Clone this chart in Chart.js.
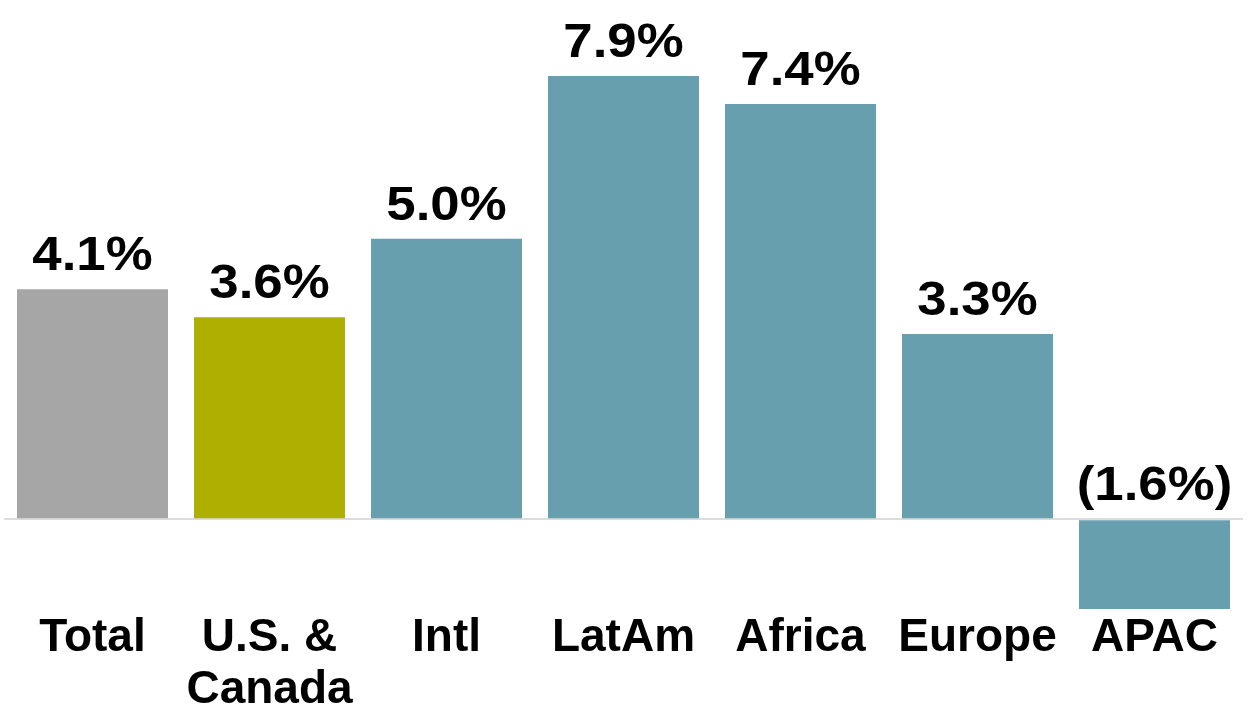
<!DOCTYPE html>
<html>
<head>
<meta charset="utf-8">
<script src="https://cdn.jsdelivr.net/npm/chart.js@4/dist/chart.umd.min.js"></script>
<style>
    body { margin: 0; background: #fff; }
    #wrap { width: 1250px; height: 711px; }
</style>
</head>
<body>
<div id="wrap"><canvas id="growthChart" width="1250" height="711"></canvas></div>
<script>
// Chart data
const categories = ['Total', ['U.S. &', 'Canada'], 'Intl', 'LatAm', 'Africa', 'Europe', 'APAC'];
const growthValues = [4.1, 3.6, 5.0, 7.9, 7.4, 3.3, -1.6];
const barColors = ['#a6a6a6', '#aeb000', '#679faf', '#679faf', '#679faf', '#679faf', '#679faf'];

// Format value as percent, negatives in parentheses
function formatPct(v) {
    return v < 0 ? '(' + Math.abs(v).toFixed(1) + '%)' : v.toFixed(1) + '%';
}

// Value labels above each bar (negatives sit above the zero line)
const valueLabels = {
    id: 'valueLabels',
    afterDatasetsDraw(chart) {
        const ctx = chart.ctx;
        const meta = chart.getDatasetMeta(0);
        const zeroY = chart.scales.y.getPixelForValue(0);
        meta.data.forEach((bar, i) => {
            const top = Math.min(bar.y, zeroY);
            ctx.save();
            ctx.font = 'bold 48px "Liberation Sans", Arial, sans-serif';
            ctx.fillStyle = '#000';
            ctx.textAlign = 'center';
            ctx.textBaseline = 'alphabetic';
            // slightly wider glyphs, like the original
            ctx.translate(bar.x, top - 19);
            ctx.scale(1.1, 1);
            ctx.fillText(formatPct(growthValues[i]), 0, 0);
            ctx.restore();
        });
    }
};

const ctx = document.getElementById('growthChart').getContext('2d');
new Chart(ctx, {
    type: 'bar',
    data: {
        labels: categories,
        datasets: [{
            data: growthValues,
            backgroundColor: barColors,
            borderWidth: 0,
            barPercentage: 0.853,
            categoryPercentage: 1.0
        }]
    },
    options: {
        responsive: false,
        animation: false,
        layout: { padding: { top: 76, left: 4, right: 7, bottom: 0 } },
        plugins: {
            legend: { display: false },
            tooltip: { enabled: false }
        },
        scales: {
            x: {
                grid: { display: false },
                border: { display: false },
                ticks: {
                    color: '#000',
                    padding: -5,
                    maxRotation: 0,
                    autoSkip: false,
                    font: { family: '"Liberation Sans", Arial, sans-serif', size: 46, weight: 'bold', lineHeight: 1.13 }
                }
            },
            y: {
                min: -1.6,
                max: 7.9,
                border: { display: false },
                grid: {
                    drawTicks: false,
                    lineWidth: 2,
                    color: c => (c.tick && c.tick.value === 0) ? '#dcdcdc' : 'rgba(0,0,0,0)'
                },
                ticks: { display: false, stepSize: 1 }
            }
        }
    },
    plugins: [valueLabels]
});
</script>
</body>
</html>
